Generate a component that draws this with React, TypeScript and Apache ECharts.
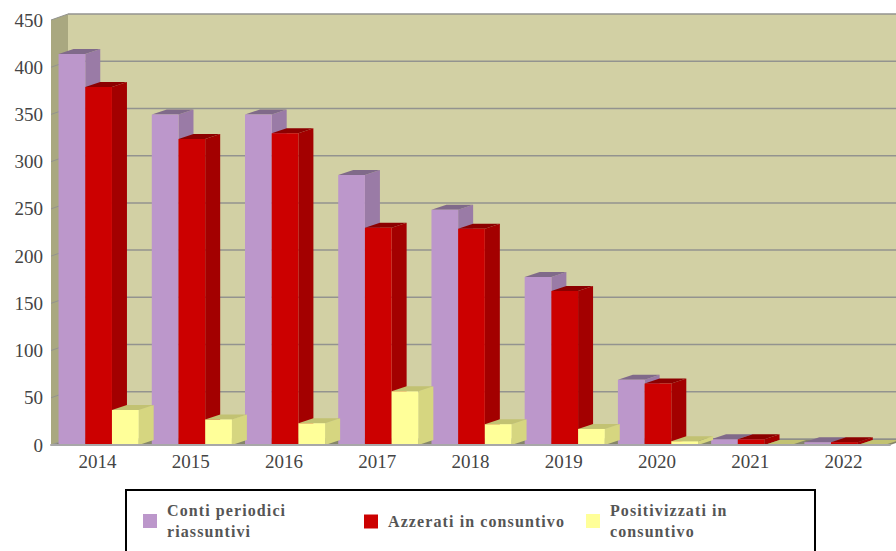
import React, { useEffect, useRef } from "react";
import * as echarts from "echarts";

const categories = ["2014", "2015", "2016", "2017", "2018", "2019", "2020", "2021", "2022"];
const contiPeriodici = [414, 350, 350, 286, 249, 178, 69, 6, 3];
const azzerati = [379, 324, 330, 230, 229, 163, 65, 6, 3];
const positivizzati = [37, 27, 23, 57, 22, 17, 4, 0, 0];
const yTicks = [0, 50, 100, 150, 200, 250, 300, 350, 400, 450];

const DX = 17;
const DY = 6;
const BAR_DX = 15;
const BAR_DY = 5;
const BAR_W = 26.7;

const poly = (points: number[][], fill: string, z2 = 0) => ({
  type: "polygon",
  z2,
  shape: { points },
  style: { fill, stroke: "none" },
});

function barSeries(name: string, values: number[], slot: number, front: string, side: string, top: string) {
  return {
    type: "custom",
    name,
    clip: false,
    silent: true,
    itemStyle: { color: front },
    data: values.map((v, i) => [i, v]),
    encode: { x: 0, y: 1 },
    z: 5,
    renderItem: (_: any, api: any) => {
      const i = api.value(0);
      const [cx, yTop] = api.coord([i, api.value(1)]);
      const [, y0] = api.coord([i, 0]);
      const x = cx + 1 + (slot - 1.5) * BAR_W;
      const w = BAR_W;
      return {
        type: "group",
        children: [
          poly([[x + w, yTop], [x + w + BAR_DX, yTop - BAR_DY], [x + w + BAR_DX, y0 - BAR_DY], [x + w, y0]], side),
          poly([[x, yTop], [x + BAR_DX, yTop - BAR_DY], [x + w + BAR_DX, yTop - BAR_DY], [x + w, yTop]], top),
          { type: "rect", shape: { x, y: yTop, width: w, height: y0 - yTop }, style: { fill: front } },
        ],
      };
    },
  };
}

const legendCommon = {
  orient: "horizontal",
  icon: "rect",
  itemWidth: 14,
  itemHeight: 14,
  itemGap: 0,
  padding: 0,
  selectedMode: false,
  textStyle: {
    fontFamily: "Liberation Serif",
    fontWeight: "bold",
    fontSize: 16,
    lineHeight: 21,
    color: "#555555",
    padding: [0, 0, 0, 5],
  },
};

export default function App() {
  const ref = useRef<HTMLDivElement>(null);
  useEffect(() => {
    const chart = echarts.init(ref.current!, null, { renderer: "svg" });
    chart.setOption({
      animation: false,
      backgroundColor: "#ffffff",
      grid: { left: 51, right: 6, top: 20, bottom: 106 },
      xAxis: {
        type: "category",
        data: categories,
        axisLine: { show: true, lineStyle: { color: "#a8a8a8", width: 2 } },
        axisTick: { show: false },
        axisLabel: { fontFamily: "Liberation Serif", fontSize: 19, color: "#444444", margin: 7 },
        z: 6,
      },
      yAxis: {
        type: "value",
        min: 0,
        max: 450,
        interval: 50,
        axisLine: { show: false },
        axisTick: { show: false },
        splitLine: { show: false },
        axisLabel: { fontFamily: "Liberation Serif", fontSize: 19, color: "#444444", margin: 8 },
      },
      legend: [
        { ...legendCommon, left: 143, top: 500, data: ["Conti periodici\nriassuntivi"] },
        { ...legendCommon, left: 364, top: 511, data: ["Azzerati in consuntivo"] },
        { ...legendCommon, left: 586, top: 500, data: ["Positivizzati in\nconsuntivo"] },
      ],
      graphic: [
        {
          type: "rect",
          shape: { x: 126, y: 490, width: 689, height: 80 },
          style: { fill: "none", stroke: "#000000", lineWidth: 2 },
        },
      ],
      series: [
        {
          type: "custom",
          name: "wall",
          silent: true,
          clip: false,
          z: 1,
          data: [[0, 0]],
          encode: { x: 0, y: 1 },
          renderItem: (params: any) => {
            const c = params.coordSys;
            const l = c.x;
            const t = c.y;
            const r = c.x + c.width;
            const b = c.y + c.height;
            return {
              type: "group",
              children: [
                poly([[l + DX, t - DY], [r + DX, t - DY], [r + DX, b - DY], [l + DX, b - DY]], "#d2d0a4"),
                poly([[l, t], [l + DX, t - DY], [l + DX, b - DY], [l, b]], "#a9a880"),
                poly([[l, b], [l + DX, b - DY], [r + DX, b - DY], [r, b]], "#85856a"),
              ],
            };
          },
        },
        {
          type: "custom",
          name: "gridlines",
          silent: true,
          clip: false,
          z: 2,
          data: yTicks.map((v) => [0, v]),
          encode: { x: 0, y: 1 },
          renderItem: (params: any, api: any) => {
            const c = params.coordSys;
            const y = api.coord([0, api.value(1)])[1];
            return {
              type: "group",
              children: [
                {
                  type: "line",
                  shape: { x1: c.x + DX, y1: y - DY, x2: c.x + c.width + DX, y2: y - DY },
                  style: { stroke: "#93938f", lineWidth: 1.5 },
                },
                {
                  type: "line",
                  shape: { x1: c.x, y1: y, x2: c.x + DX, y2: y - DY },
                  style: { stroke: "#93938f", lineWidth: 1 },
                },
              ],
            };
          },
        },
        barSeries("Conti periodici\nriassuntivi", contiPeriodici, 0, "#bc97cb", "#9a7ba6", "#806a8a"),
        barSeries("Azzerati in consuntivo", azzerati, 1, "#cc0000", "#a30000", "#8c0000"),
        barSeries("Positivizzati in\nconsuntivo", positivizzati, 2, "#ffff99", "#d6d680", "#c2c272"),
      ],
    });
    return () => chart.dispose();
  }, []);
  return (
    <>
      <style>{`svg text[style*="bold"]{letter-spacing:1.1px}`}</style>
      <div ref={ref} style={{ position: "absolute", left: 0, top: 0, width: 896, height: 551 }} />
    </>
  );
}
